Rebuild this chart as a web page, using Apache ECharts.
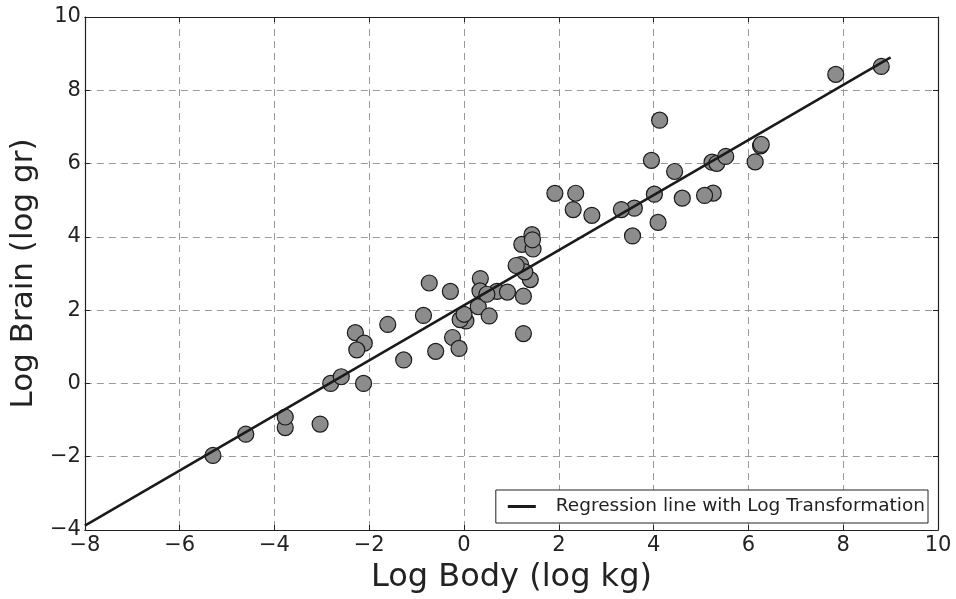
<!DOCTYPE html>
<html>
<head>
<meta charset="utf-8">
<script src="https://cdn.jsdelivr.net/npm/echarts@6/dist/echarts.min.js"></script>
<style>
html,body{margin:0;padding:0;background:#fff;}
#main{width:956px;height:599px;}
</style>
</head>
<body>
<div id="main"></div>
<script>
// Log body weight (log kg) and log brain weight (log gr)
var logBody = [1.219, -0.734, 0.300, 6.142, 3.593, 3.320, 2.697, 0.039, 1.433, -0.856,
  -2.293, -0.083, 0.000, -5.298, -2.813, 1.253, 0.693, 0.531, 7.843, -3.772,
  5.232, 6.256, -0.242, 2.303, 1.194, -1.609, 0.344, 6.271, 5.333, 4.443,
  -0.288, 4.127, 8.803, 1.253, 1.917, 3.555, 1.399, -2.120, -3.772, -4.605,
  0.336, 5.521, 0.916, 4.016, 4.605, 3.954, 2.356, -0.598, 4.094, 1.281,
  1.456, -1.273, -2.590, -2.104, -3.037, 5.257, 1.099, 5.075, -0.105, 0.482,
  -2.263, 1.443];
var logBrain = [3.795, 2.741, 2.092, 6.047, 4.783, 4.745, 4.587, 1.705, 4.060, 1.856,
  1.386, 1.740, 1.887, -1.966, 0.000, 2.380, 2.510, 1.841, 8.434, -1.204,
  6.038, 6.485, 1.253, 4.745, 3.243, 1.609, 2.862, 6.522, 6.006, 5.784,
  2.510, 7.185, 8.650, 1.361, 5.187, 4.025, 2.833, 0.000, -0.916, -1.386,
  2.526, 6.194, 2.493, 5.165, 5.056, 6.087, 5.190, 0.875, 4.394, 3.045,
  3.669, 0.642, 0.182, 1.099, -1.109, 5.193, 3.219, 5.130, 0.956, 2.434,
  0.916, 3.920];
// Regression line end points
var lineX = [-8, 9];
var lineY = [-3.88, 8.90];
var xTicks = {min: -8, max: 10, interval: 2};
var yTicks = {min: -4, max: 10, interval: 2};

var pts = logBody.map(function(v, i){ return [v, logBrain[i]]; });
var linePts = lineX.map(function(v, i){ return [v, lineY[i]]; });

var FONT = 'DejaVu Sans';
var TXT = '#222';
function minus(v){ return String(v).replace('-', '\u2212'); }

var chart = echarts.init(document.getElementById('main'), null, {renderer: 'canvas'});
var frameLine = {show: true, onZero: false, lineStyle: {color: '#222', width: 1.2}};
var splitL = {show: true, lineStyle: {color: '#9a9a9a', width: 1, type: [7, 5]}};
chart.setOption({
  animation: false,
  backgroundColor: '#fff',
  textStyle: {fontFamily: FONT},
  grid: {left: 82, right: 18, top: 17, bottom: 68, containLabel: false},
  legend: {
    data: ['Regression line with Log Transformation'],
    right: 28, bottom: 76,
    orient: 'vertical',
    backgroundColor: '#fff',
    borderColor: '#222', borderWidth: 1, borderRadius: 0,
    padding: [7, 3, 7, 12],
    itemWidth: 28, itemHeight: 3, itemGap: 0,
    icon: 'rect',
    textStyle: {fontFamily: FONT, fontSize: 18.5, color: TXT, padding: [0, 0, 0, 15]}
  },
  xAxis: [{
    type: 'value', position: 'bottom',
    min: xTicks.min, max: xTicks.max, interval: xTicks.interval,
    name: 'Log Body (log kg)', nameLocation: 'middle', nameGap: 32,
    nameTextStyle: {fontFamily: FONT, fontSize: 32, color: TXT},
    axisLine: frameLine,
    axisTick: {show: true, inside: true, length: 5, lineStyle: {color: '#222'}},
    axisLabel: {fontFamily: FONT, fontSize: 21, color: TXT, margin: 5, formatter: minus},
    splitLine: splitL
  }, {
    type: 'value', position: 'top',
    min: xTicks.min, max: xTicks.max, interval: xTicks.interval,
    axisLine: frameLine,
    axisTick: {show: true, inside: true, length: 5, lineStyle: {color: '#222'}},
    axisLabel: {show: false},
    splitLine: {show: false}
  }],
  yAxis: [{
    type: 'value', position: 'left',
    min: yTicks.min, max: yTicks.max, interval: yTicks.interval,
    name: 'Log Brain (log gr)', nameLocation: 'middle', nameGap: 44,
    nameTextStyle: {fontFamily: FONT, fontSize: 31, color: TXT},
    axisLine: frameLine,
    axisTick: {show: true, inside: true, length: 5, lineStyle: {color: '#222'}},
    axisLabel: {fontFamily: FONT, fontSize: 21, color: TXT, margin: 4, formatter: minus},
    splitLine: splitL
  }, {
    type: 'value', position: 'right',
    min: yTicks.min, max: yTicks.max, interval: yTicks.interval,
    axisLine: frameLine,
    axisTick: {show: true, inside: true, length: 5, lineStyle: {color: '#222'}},
    axisLabel: {show: false},
    splitLine: {show: false}
  }],
  series: [{
    type: 'scatter',
    xAxisIndex: 0, yAxisIndex: 0,
    data: pts,
    symbol: 'circle', symbolSize: 16,
    itemStyle: {color: '#8c8c8c', borderColor: '#1a1a1a', borderWidth: 1.2, opacity: 1},
    z: 2
  }, {
    name: 'Regression line with Log Transformation',
    type: 'line',
    xAxisIndex: 0, yAxisIndex: 0,
    data: linePts,
    showSymbol: false, symbol: 'none',
    lineStyle: {color: '#1a1a1a', width: 2.5},
    itemStyle: {color: '#1a1a1a'},
    z: 3
  }]
});
</script>
</body>
</html>
